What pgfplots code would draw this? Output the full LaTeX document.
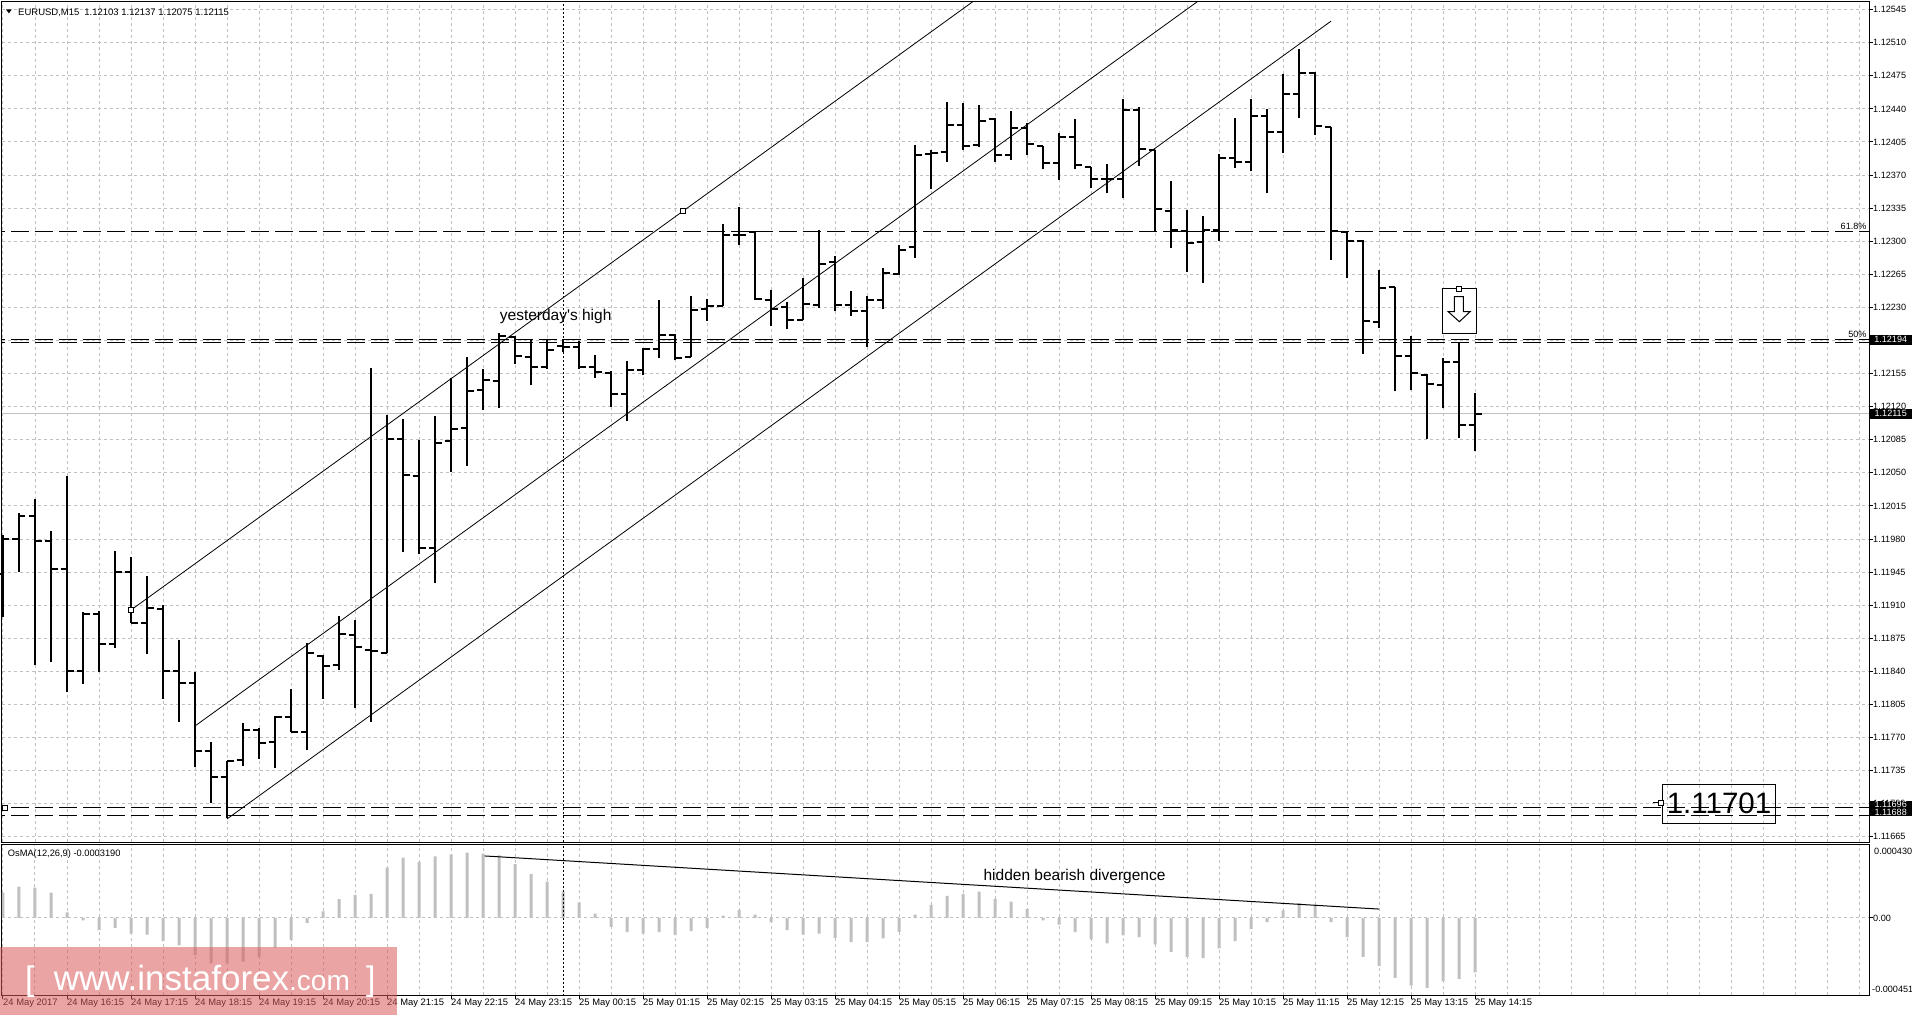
\documentclass[border=0pt]{standalone}
\usepackage{pgfplots}
\pgfplotsset{compat=1.18}
\usepackage{pgfplotstable}
\usepackage{fontspec}
\setmainfont{Liberation Sans}
\definecolor{gridgray}{RGB}{192,192,192}
\definecolor{osmagray}{RGB}{192,192,192}
\definecolor{wmred}{RGB}{220,90,90}
\newcommand\axfont{\fontsize{9.1}{10}\selectfont}
\newcommand\tlfont{\fontsize{9.4}{10}\selectfont}
\newcommand\annfont{\fontsize{15.5}{17}\selectfont}

\pgfdeclareplotmark{ohlcopen}{\pgfpathmoveto{\pgfqpoint{-6.5pt}{0pt}}\pgfpathlineto{\pgfqpoint{0pt}{0pt}}\pgfusepathqstroke}
\pgfdeclareplotmark{ohlcclose}{\pgfpathmoveto{\pgfqpoint{0pt}{0pt}}\pgfpathlineto{\pgfqpoint{6.5pt}{0pt}}\pgfusepathqstroke}

% prices in points above 1.11000 (e.g. 1115 -> 1.12115)
\pgfplotstableread{
n o h l c
0 945 986 899 982
1 982 1010 947 1006
2 1006 1024 848 980
3 980 990 851 950
4 950 1049 819 841
5 841 904 828 902
6 902 905 840 870
7 870 969 866 947
8 947 963 892 893
9 893 942 859 908
10 907 912 812 841
11 841 874 787 829
12 829 840 739 756
13 756 766 701 729
14 729 746 685 746
15 747 786 740 779
16 779 781 748 765
17 766 794 738 792
18 793 822 776 776
19 776 871 757 861
20 857 858 812 847
21 848 900 842 881
22 880 896 802 867
23 864 1164 787 863
24 861 1114 861 1088
25 1088 1110 968 1050
26 1049 1087 966 972
27 972 1113 935 1084
28 1086 1153 1053 1099
29 1100 1175 1060 1139
30 1140 1163 1119 1151
31 1150 1201 1121 1198
32 1197 1198 1168 1176
33 1175 1194 1146 1165
34 1165 1194 1163 1183
35 1187 1195 1181 1186
36 1186 1192 1163 1165
37 1165 1178 1153 1160
38 1158 1161 1122 1136
39 1136 1171 1107 1162
40 1162 1185 1156 1184
41 1184 1236 1174 1199
42 1199 1200 1172 1174
43 1175 1240 1175 1225
44 1226 1237 1214 1230
45 1230 1317 1230 1305
46 1305 1335 1295 1305
47 1308 1309 1236 1237
48 1236 1247 1208 1227
49 1229 1234 1205 1215
50 1215 1259 1215 1232
51 1231 1311 1228 1274
52 1276 1283 1224 1231
53 1231 1246 1219 1224
54 1224 1240 1186 1236
55 1236 1270 1226 1265
56 1264 1295 1263 1289
57 1292 1401 1281 1390
58 1391 1396 1354 1392
59 1394 1447 1383 1422
60 1422 1446 1396 1400
61 1401 1443 1399 1427
62 1429 1430 1383 1390
63 1390 1437 1385 1419
64 1419 1424 1390 1402
65 1400 1400 1375 1382
66 1382 1414 1364 1410
67 1410 1429 1375 1380
68 1378 1378 1355 1365
69 1365 1381 1350 1365
70 1365 1450 1345 1438
71 1438 1441 1379 1397
72 1396 1396 1309 1333
73 1331 1363 1291 1311
74 1309 1332 1266 1297
75 1298 1325 1254 1311
76 1311 1391 1299 1387
77 1387 1430 1377 1383
78 1383 1450 1373 1432
79 1432 1439 1350 1415
80 1415 1476 1392 1455
81 1455 1503 1430 1478
82 1478 1479 1412 1421
83 1420 1420 1279 1309
84 1308 1309 1260 1299
85 1299 1300 1179 1214
86 1213 1268 1206 1249
87 1250 1250 1139 1176
88 1176 1198 1140 1158
89 1156 1157 1088 1147
90 1146 1174 1121 1170
91 1170 1190 1089 1103
92 1103 1137 1075 1115
}\bars

% OsMA(12,26,9) in units of 0.00001
\pgfplotstableread{
n v
0 14.9
1 18.3
2 17.8
3 14.9
4 3.3
5 -1.4
6 -7.1
7 -5.8
8 -9.1
9 -9.7
10 -13.5
11 -16.0
12 -21.6
13 -26.6
14 -26.6
15 -25.5
16 -22.8
17 -17.4
18 -12.9
19 -2.9
20 3.9
21 11.0
22 13.5
23 14.1
24 29.5
25 35.3
26 32.8
27 36.1
28 37.2
29 38.2
30 37.6
31 36.7
32 31.5
33 25.7
34 21.2
35 15.4
36 9.1
37 2.5
38 -5.2
39 -8.3
40 -9.1
41 -8.3
42 -10.0
43 -7.7
44 -5.8
45 1.4
46 4.8
47 1.9
48 -2.5
49 -7.1
50 -9.7
51 -9.1
52 -11.6
53 -14.1
54 -14.1
55 -12.0
56 -8.1
57 1.9
58 7.7
59 12.9
60 14.1
61 15.4
62 11.2
63 9.5
64 5.2
65 -1.4
66 -3.9
67 -8.3
68 -12.5
69 -14.9
70 -10.2
71 -11.2
72 -15.4
73 -19.9
74 -22.8
75 -23.5
76 -17.8
77 -13.5
78 -6.4
79 -2.5
80 4.4
81 8.7
82 7.7
83 -2.5
84 -11.2
85 -22.8
86 -28.0
87 -35.1
88 -39.6
89 -40.9
90 -37.0
91 -35.7
92 -31.9
}\osma

\begin{document}
\begin{tikzpicture}
\path[use as bounding box] (0pt,0pt) rectangle (1912pt,-1016pt);
\fill[white] (0pt,0pt) rectangle (1912pt,-1016pt);

\begin{axis}[name=main, at={(2pt,-2pt)}, anchor=north west,
  scale only axis, width=1867pt, height=840pt,
  xmin=-0.0625, xmax=116.625, ymin=659.5, ymax=1553.1,
  axis line style={black, line width=1pt},
  xtick={0,2,...,116}, xticklabels={}, xtick style={draw=none},
  ytick={665,700.2,735.4,770.6,805.8,841,876.2,911.4,946.6,981.8,1017,1052.2,1087.4,1122.6,1157.8,1193,1228.2,1263.4,1298.6,1333.8,1369,1404.2,1439.4,1474.6,1509.8,1545},
  yticklabels={1.11665,1.11700,1.11735,1.11770,1.11805,1.11840,1.11875,1.11910,1.11945,1.11980,1.12015,1.12050,1.12085,1.12120,1.12155,1.12190,1.12230,1.12265,1.12300,1.12335,1.12370,1.12405,1.12440,1.12475,1.12510,1.12545},
  ytick pos=right, yticklabel pos=right, tick align=outside, major tick length=4pt,
  ytick style={black, line width=1pt},
  yticklabel style={anchor=west, inner sep=0pt, font=\axfont},
  xmajorgrids, ymajorgrids,
  major grid style={gridgray, line width=1pt, dash pattern=on 3pt off 3pt},
]
% horizontal levels
\addplot[gridgray, line width=1pt] coordinates {(-1,1115) (118,1115)};
\addplot[black, line width=1pt, dash pattern=on 18pt off 6pt] coordinates {(-1,1309) (118,1309)};
\addplot[black, line width=1pt, dash pattern=on 18pt off 6pt] coordinates {(-1,1194) (118,1194)};
\addplot[black, line width=1pt, dash pattern=on 18pt off 6pt] coordinates {(-1,1191) (118,1191)};
\addplot[black, line width=1pt, dash pattern=on 18pt off 6pt] coordinates {(-1,696) (118,696)};
\addplot[black, line width=1pt, dash pattern=on 18pt off 6pt] coordinates {(-1,688) (118,688)};
% vertical dotted separator
\addplot[black, line width=1pt, dash pattern=on 2pt off 2pt] coordinates {(35,600) (35,1600)};
% channel
\addplot[black, line width=0.8pt] coordinates {(8,906.3) (64,1595.1)};
\addplot[black, line width=0.8pt] coordinates {(12,782.9) (76,1570.1)};
\addplot[black, line width=0.8pt] coordinates {(14,684) (83,1532.7)};
% OHLC bars: high-low range
\addplot[black, line width=2pt, quiver={u=0, v=\thisrow{h}-\thisrow{l}}] table[x=n, y=l] {\bars};
\addplot[black, only marks, mark=ohlcopen, mark options={line width=2pt, solid}] table[x=n, y=o] {\bars};
\addplot[black, only marks, mark=ohlcclose, mark options={line width=2pt, solid}] table[x=n, y=c] {\bars};
% arrow box
\filldraw[fill=white, draw=black, line width=1pt] (axis cs:89.96,1248.5) rectangle (axis cs:92.11,1200.6);
\filldraw[fill=white, draw=black, line width=1pt] (axis cs:90.71,1239.6) -- (axis cs:91.27,1239.6) -- (axis cs:91.27,1223.6) -- (axis cs:91.69,1223.6) -- (axis cs:91.02,1213.0) -- (axis cs:90.33,1223.6) -- (axis cs:90.71,1223.6) -- cycle;
% 1.11701 label
\addplot[black, line width=1pt] coordinates {(103.1,701.5) (103.6,701.5)};
\node[draw=black, line width=1pt, minimum width=113pt, minimum height=39pt, inner sep=0pt, anchor=west, font=\fontsize{29.5}{30}\selectfont] at (axis cs:103.69,700.4) {1.11701};
% object anchors
\addplot[only marks, mark=square*, mark size=2.5pt, mark options={fill=white, draw=black, line width=0.8pt}] coordinates {(8,906.3) (42.52,1330.7) (0.125,696) (103.6,701.5) (91.02,1247.5)};
% texts
\node[anchor=base, font=\annfont, inner sep=0pt] at (axis cs:34.54,1214) {yesterday\textquotesingle s high};
\node[anchor=south east, font=\axfont, inner sep=0pt] at (axis cs:116.48,1309) [yshift=2pt] {61.8\%};
\node[anchor=south east, font=\axfont, inner sep=0pt] at (axis cs:116.48,1194) [yshift=2pt] {50\%};
\coordinate (p1194) at (axis cs:116.625,1194);
\coordinate (p1115) at (axis cs:116.625,1115);
\coordinate (p696) at (axis cs:116.625,699.4);
\coordinate (p688) at (axis cs:116.625,691.1);
\end{axis}

\begin{axis}[name=osma, at={(2pt,-844.5pt)}, anchor=north west,
  scale only axis, width=1867pt, height=150.5pt,
  xmin=-0.0625, xmax=116.625, ymin=-45.1, ymax=43.0,
  axis line style={black, line width=1pt},
  xtick={0,4,...,92},
  xticklabels={24 May 2017,24 May 16:15,24 May 17:15,24 May 18:15,24 May 19:15,24 May 20:15,24 May 21:15,24 May 22:15,24 May 23:15,25 May 00:15,25 May 01:15,25 May 02:15,25 May 03:15,25 May 04:15,25 May 05:15,25 May 06:15,25 May 07:15,25 May 08:15,25 May 09:15,25 May 10:15,25 May 11:15,25 May 12:15,25 May 13:15,25 May 14:15},
  minor xtick={2,6,10,14,18,22,26,30,34,38,42,46,50,54,58,62,66,70,74,78,82,86,90,94,96,98,100,102,104,106,108,110,112,114,116},
  xtick pos=bottom, ytick pos=right, yticklabel pos=right,
  tick align=outside, major tick length=4pt, minor tick length=0pt,
  tick style={black, line width=1pt},
  xticklabel style={anchor=north west, inner sep=0pt, font=\tlfont},
  ytick={0}, yticklabels={0.00},
  yticklabel style={anchor=west, inner sep=0pt, font=\axfont},
  xmajorgrids, xminorgrids, ymajorgrids,
  major grid style={gridgray, line width=1pt, dash pattern=on 3pt off 3pt},
  minor grid style={gridgray, line width=1pt, dash pattern=on 3pt off 3pt},
]
\addplot[ybar, bar width=3pt, fill=osmagray, draw=none] table[x=n, y=v] {\osma};
\addplot[black, line width=1pt, dash pattern=on 2pt off 2pt] coordinates {(35,-60) (35,60)};
\addplot[black, line width=1pt] coordinates {(30.1,36.3) (86.0,5.2)};
\node[anchor=base, font=\annfont, inner sep=0pt] at (axis cs:66.97,21.8) {hidden bearish divergence};
\coordinate (otop) at (axis cs:116.625,43.0);
\coordinate (obot) at (axis cs:116.625,-45.1);
\end{axis}

% right-side price boxes
\node[fill=black, text=white, anchor=west, inner sep=0pt, minimum width=43pt, minimum height=10pt, font=\axfont] at (p1194) {1.12194};
\node[fill=black, text=white, anchor=west, inner sep=0pt, minimum width=43pt, minimum height=10pt, font=\axfont] at (p1115) {1.12115};
\node[fill=black, text=white, anchor=west, inner sep=0pt, minimum width=43pt, minimum height=7.8pt, font=\axfont] at (p696) {1.11696};
\node[fill=black, text=white, anchor=west, inner sep=0pt, minimum width=43pt, minimum height=7.8pt, font=\axfont] at (p688) {1.11688};
% osma scale labels
\node[anchor=west, inner sep=0pt, font=\axfont] at ([xshift=5pt,yshift=-7.2pt]otop) {0.000430};
\node[anchor=west, inner sep=0pt, font=\axfont] at ([xshift=3pt,yshift=5.7pt]obot) {-0.000451};

% header
\fill[black] (6pt,-9.5pt) -- (11.7pt,-9.5pt) -- (8.85pt,-13.3pt) -- cycle;
\node[anchor=base west, inner sep=0pt, font=\fontsize{9.5}{10}\selectfont] at (18pt,-16pt) {EURUSD,M15\hspace{5pt}1.12103 1.12137 1.12075 1.12115};
\node[anchor=base west, inner sep=0pt, font=\fontsize{9.3}{10}\selectfont] at (7.7pt,-856.5pt) {OsMA(12,26,9) -0.0003190};

% watermark
\fill[wmred, opacity=0.55] (0pt,-946.5pt) rectangle (397pt,-1015pt);
\node[anchor=base west, inner sep=0pt, text=white, font=\fontsize{34}{34}\selectfont] at (25pt,-990pt) {[};
\node[anchor=base west, inner sep=0pt, text=white, font=\fontsize{35}{35}\selectfont] at (53.6pt,-990pt) {www.instaforex{\fontsize{28}{28}\selectfont.com}};
\node[anchor=base west, inner sep=0pt, text=white, font=\fontsize{34}{34}\selectfont] at (366pt,-990pt) {]};
\end{tikzpicture}
\end{document}
